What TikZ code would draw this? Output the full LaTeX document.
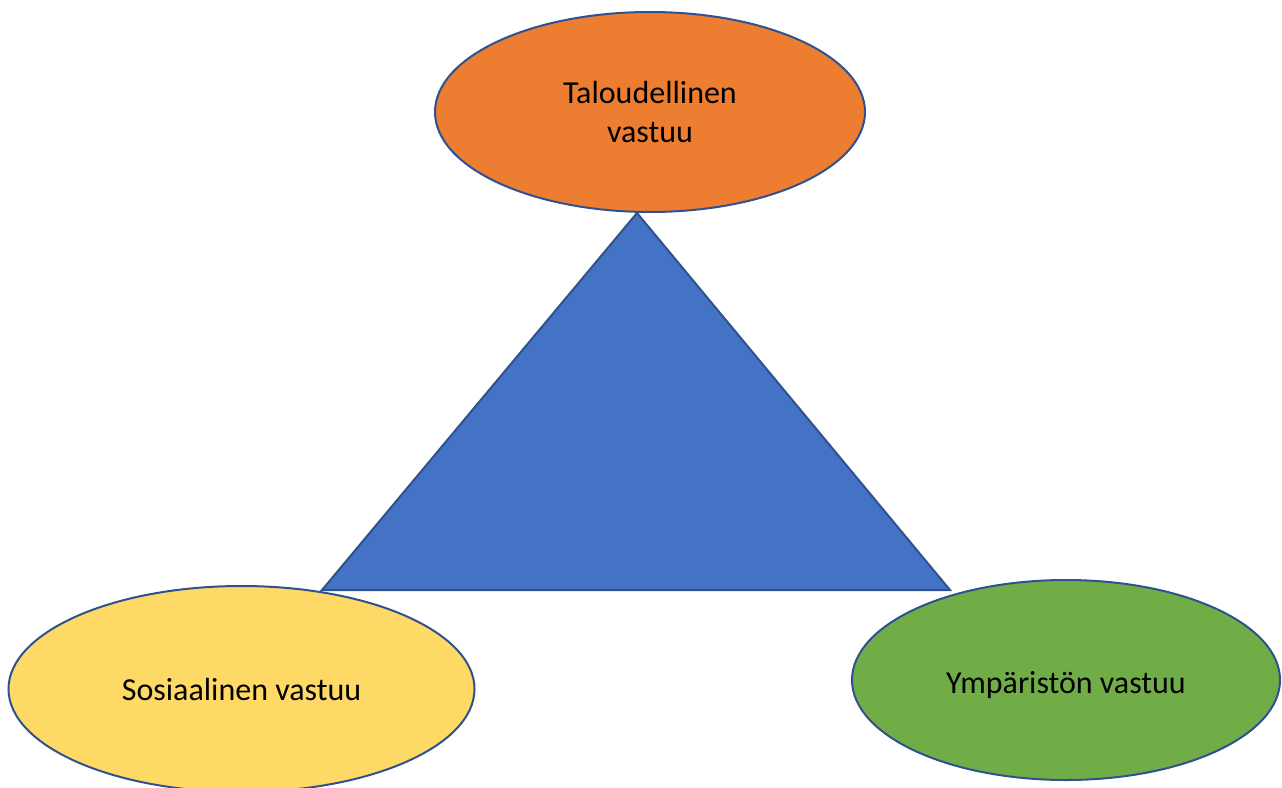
\documentclass[tikz,border=0pt]{standalone}
\usepackage{fontspec}
\setmainfont{Carlito}
\usepackage{tikz}
\usetikzlibrary{shapes.geometric}

\definecolor{rim}{HTML}{2F528F}
\definecolor{talous}{HTML}{ED7D31}
\definecolor{kolmio}{HTML}{4472C4}
\definecolor{sosiaali}{HTML}{FFD966}
\definecolor{ymparisto}{HTML}{70AD47}

\begin{document}
\begin{tikzpicture}[x=1pt, y=-1pt,
  vastuu/.style={draw=rim, line width=2pt, shape=ellipse, inner sep=0pt,
    align=center, font=\fontsize{32}{39}\selectfont}]
\useasboundingbox (0,0) rectangle (1282,787);

\coordinate (huippu) at (637,213);
\coordinate (vasen) at (322,590);
\coordinate (oikea) at (950,590);
\draw[draw=rim, line width=2pt, fill=kolmio, line join=miter] (huippu) -- (oikea) -- (vasen) -- cycle;

\node[vastuu, fill=talous, minimum width=430pt, minimum height=200pt] (talous) at (650,112) {Taloudellinen\\vastuu};
\node[vastuu, fill=sosiaali, minimum width=466pt, minimum height=206pt] (sosiaali) at (241.5,689) {Sosiaalinen vastuu};
\node[vastuu, fill=ymparisto, minimum width=428pt, minimum height=200pt, text height=32pt, text depth=6pt] (ymparisto) at (1066,680) {Ympäristön vastuu};
\end{tikzpicture}
\end{document}
